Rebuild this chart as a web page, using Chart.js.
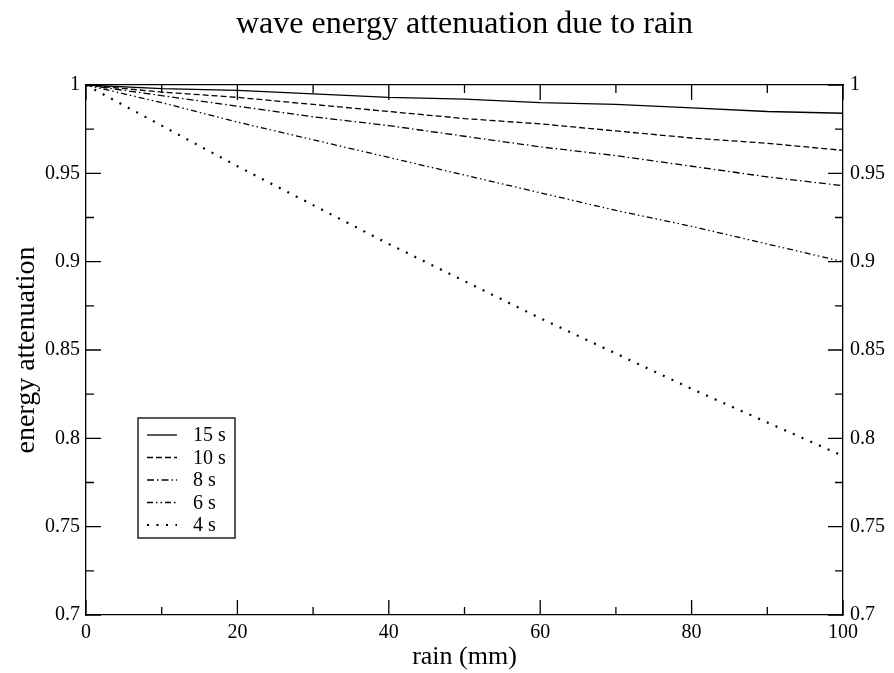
<!DOCTYPE html>
<html>
<head>
<meta charset="utf-8">
<script src="https://cdn.jsdelivr.net/npm/chart.js@4"></script>
<style>
    html, body { margin: 0; padding: 0; background: #fff; }
    #wrap { width: 894px; height: 673px; }
</style>
</head>
<body>
<div id="wrap"><canvas id="myChart"></canvas></div>
<script>
// data
const rain = [0, 10, 20, 30, 40, 50, 60, 70, 80, 90, 100];
const s15 = [1, 0.998, 0.997, 0.995, 0.993, 0.992, 0.990, 0.989, 0.987, 0.985, 0.984];
const s10 = [1, 0.996, 0.993, 0.989, 0.985, 0.981, 0.978, 0.974, 0.970, 0.967, 0.963];
const s8 = [1, 0.994, 0.988, 0.982, 0.977, 0.971, 0.965, 0.960, 0.954, 0.948, 0.943];
const s6 = [1, 0.990, 0.979, 0.969, 0.959, 0.949, 0.939, 0.929, 0.920, 0.910, 0.900];
const s4 = [1, 0.977, 0.954, 0.932, 0.910, 0.889, 0.868, 0.848, 0.828, 0.809, 0.790];

const seriesNames = ['15 s', '10 s', '8 s', '6 s', '4 s'];

const xMajor = [0, 20, 40, 60, 80, 100];
const xMinor = [10, 30, 50, 70, 90];
const yMajor = [0.7, 0.75, 0.8, 0.85, 0.9, 0.95, 1];
const yMinor = [0.725, 0.775, 0.825, 0.875, 0.925, 0.975];

const serif = 'Liberation Serif';

const points = (ys) => rain.map((r, i) => ({ x: r, y: ys[i] }));

const styles = [
    { dash: [], width: 1.3 },
    { dash: [6, 3], width: 1.3 },
    { dash: [7, 3, 1.5, 3], width: 1.3 },
    { dash: [6, 3, 1.5, 3, 1.5, 3], width: 1.3 },
    { dash: [2, 7.5], width: 2.2 }
];

const datasets = [s15, s10, s8, s6, s4].map((ys, i) => ({
    label: seriesNames[i],
    data: points(ys),
    borderColor: '#000',
    borderWidth: styles[i].width,
    borderDash: styles[i].dash,
    pointRadius: 0,
    tension: 0,
    fill: false
}));

const setTicks = (vals) => (scale) => {
    scale.ticks = vals.map(v => ({ value: v }));
};

const fmt = (v) => String(+Number(v).toFixed(3));

// inward tick marks on all four sides + legend box inside the plot
const frameAndLegend = {
    id: 'frameAndLegend',
    afterDraw(chart) {
        const ctx = chart.ctx;
        const { left, right, top, bottom } = chart.chartArea;
        const sx = chart.scales.x;
        const sy = chart.scales.y;
        ctx.save();
        ctx.strokeStyle = '#000';
        ctx.lineWidth = 1.3;
        ctx.setLineDash([]);
        ctx.beginPath();
        const xt = (vals, len) => {
            for (const v of vals) {
                const px = sx.getPixelForValue(v);
                ctx.moveTo(px, bottom); ctx.lineTo(px, bottom - len);
                ctx.moveTo(px, top); ctx.lineTo(px, top + len);
            }
        };
        const yt = (vals, len) => {
            for (const v of vals) {
                const py = sy.getPixelForValue(v);
                ctx.moveTo(left, py); ctx.lineTo(left + len, py);
                ctx.moveTo(right, py); ctx.lineTo(right - len, py);
            }
        };
        xt(xMajor, 15); xt(xMinor, 8);
        yt(yMajor, 15); yt(yMinor, 8);
        ctx.stroke();

        // legend
        const bx = 138, by = 418, bw = 97, bh = 120;
        ctx.strokeRect(bx, by, bw, bh);
        ctx.font = '20px "' + serif + '"';
        ctx.fillStyle = '#000';
        ctx.textBaseline = 'middle';
        ctx.textAlign = 'left';
        chart.data.datasets.forEach((ds, i) => {
            const ly = 435 + i * 22.5;
            ctx.beginPath();
            ctx.lineWidth = ds.borderWidth;
            ctx.setLineDash(ds.borderDash);
            ctx.moveTo(147, ly);
            ctx.lineTo(177, ly);
            ctx.stroke();
            ctx.setLineDash([]);
            ctx.fillText(ds.label, 193, ly + 1);
        });
        ctx.restore();
    }
};

const ctx = document.getElementById('myChart').getContext('2d');
new Chart(ctx, {
    type: 'line',
    data: { datasets: datasets },
    plugins: [frameAndLegend],
    options: {
        responsive: true,
        maintainAspectRatio: false,
        animation: false,
        layout: { padding: 0 },
        plugins: {
            legend: { display: false },
            tooltip: { enabled: false }
        },
        scales: {
            x: {
                type: 'linear',
                position: 'bottom',
                min: 0,
                max: 100,
                afterBuildTicks: setTicks(xMajor),
                afterFit: (s) => { s.height = 58; },
                grid: { display: false, drawTicks: false },
                border: { display: true, color: '#000', width: 1.3 },
                ticks: {
                    color: '#000',
                    font: { family: serif, size: 20 },
                    padding: 6,
                    maxRotation: 0,
                    autoSkip: false,
                    callback: fmt
                },
                title: {
                    display: true,
                    text: 'rain (mm)',
                    color: '#000',
                    font: { family: serif, size: 26, lineHeight: 1.2 },
                    padding: { top: 0, bottom: 0 }
                }
            },
            x2: {
                type: 'linear',
                position: 'top',
                min: 0,
                max: 100,
                afterBuildTicks: setTicks(xMajor),
                afterFit: (s) => { s.height = 85; },
                grid: { display: false, drawTicks: false },
                border: { display: true, color: '#000', width: 1.3 },
                ticks: { display: false },
                title: {
                    display: true,
                    text: 'wave energy attenuation due to rain',
                    color: '#000',
                    font: { family: serif, size: 32, lineHeight: 1.2 },
                    padding: { top: 5, bottom: 0 }
                }
            },
            y: {
                type: 'linear',
                position: 'left',
                min: 0.7,
                max: 1,
                afterBuildTicks: setTicks(yMajor),
                afterFit: (s) => { s.width = 86; },
                grid: { display: false, drawTicks: false },
                border: { display: true, color: '#000', width: 1.3 },
                ticks: {
                    color: '#000',
                    font: { family: serif, size: 20 },
                    padding: 6,
                    autoSkip: false,
                    callback: fmt
                },
                title: {
                    display: true,
                    text: 'energy attenuation',
                    color: '#000',
                    font: { family: serif, size: 28, lineHeight: 1.2 },
                    padding: { top: 10, bottom: 0 }
                }
            },
            y2: {
                type: 'linear',
                position: 'right',
                min: 0.7,
                max: 1,
                afterBuildTicks: setTicks(yMajor),
                afterFit: (s) => { s.width = 51; },
                grid: { display: false, drawTicks: false },
                border: { display: true, color: '#000', width: 1.3 },
                ticks: {
                    color: '#000',
                    font: { family: serif, size: 20 },
                    padding: 7,
                    autoSkip: false,
                    callback: fmt
                }
            }
        }
    }
});
</script>
</body>
</html>
